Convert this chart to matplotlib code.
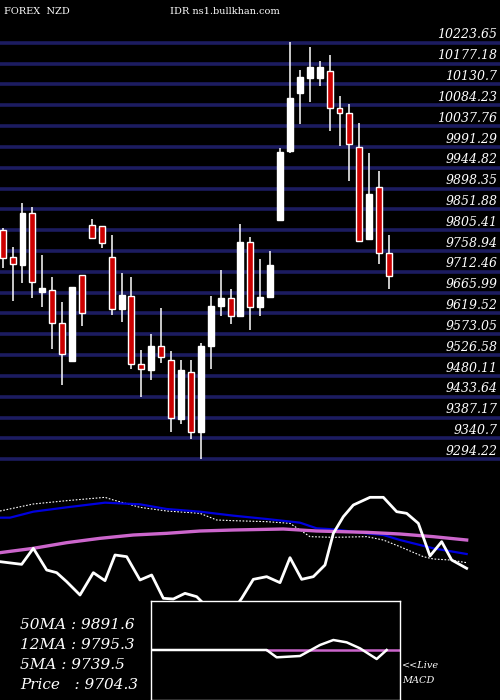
import matplotlib
matplotlib.use("Agg")
import matplotlib.pyplot as plt
from matplotlib.patches import Rectangle

# ---- candle data ----
opens  = [9805,9745,9728,9844,9668,9673,9598,9514,9705,9816,9814,9745,9630,9658,9506,9494,9547,9515,9385,9490,
          9354,9546,9637,9654,9615,9778,9633,9657,9828,9981,10112,10146,10146,10161,10077,10066,9992,9786,9901,9754]
closes = [9744,9731,9844,9689,9676,9598,9529,9679,9621,9789,9776,9629,9661,9507,9495,9547,9523,9386,9493,9354,
          9547,9636,9655,9614,9779,9635,9656,9728,9980,10100,10147,10170,10170,10077,10066,9997,9782,9886,9754,9704]
highs  = [9810,9767,9866,9857,9750,9701,9645,9679,9705,9830,9814,9795,9710,9701,9538,9574,9632,9535,9516,9516,
          9553,9659,9717,9674,9819,9790,9741,9759,9989,10225,10163,10215,10183,10196,10104,10087,10045,9978,9937,9795]
lows   = [9720,9648,9688,9655,9635,9541,9461,9514,9592,9789,9766,9616,9601,9496,9434,9470,9508,9354,9374,9340,
          9294,9496,9615,9595,9615,9583,9615,9657,9826,9978,10043,10092,10126,10027,9994,9916,9780,9786,9731,9675]
grid_levels = [10223.65,10177.18,10130.7,10084.23,10037.76,9991.29,9944.82,9898.35,9851.88,9805.41,9758.94,
               9712.46,9665.99,9619.52,9573.05,9526.58,9480.11,9433.64,9387.17,9340.7,9294.22]
grid_labels = ["10223.65","10177.18","10130.7","10084.23","10037.76","9991.29","9944.82","9898.35","9851.88",
               "9805.41","9758.94","9712.46","9665.99","9619.52","9573.05","9526.58","9480.11","9433.64",
               "9387.17","9340.7","9294.22"]

# ---- indicator panel data (panel units) ----
blue_x = [0,30,100,200,315,420,500,600,700,800,900,950,1000,1100,1150,1200,1300,1400]
blue_y = [113,113,95,82,68,73,87,95,107,117,128,145,148,160,165,180,205,222]
dot_x = [0,100,200,315,340,420,500,600,650,700,800,870,930,1000,1100,1150,1200,1270,1300,1350,1400]
dot_y = [93,72,62,52,60,82,93,100,120,122,125,130,170,172,170,180,200,230,237,240,248]
mag_x = [0,100,200,300,400,500,600,700,850,950,1100,1200,1300,1400]
mag_y = [218,205,188,175,165,160,153,150,147,153,157,162,170,180]
osc_x = [0,65,100,140,170,200,240,280,315,345,380,420,455,490,520,555,590,620,660,700,725,760,800,840,870,
         905,940,975,1000,1030,1060,1110,1150,1190,1220,1255,1290,1325,1355,1400]
osc_y = [245,253,205,270,278,305,345,278,302,225,230,300,285,355,357,340,350,380,400,390,355,298,290,308,233,
         298,290,255,160,110,75,52,52,95,100,130,228,185,240,265]
macd_x = [452,800,830,900,960,1000,1040,1080,1130,1160]
macd_y = [510,510,532,528,495,480,487,505,537,510]
sig_x = [800,1200]
sig_y = [510,510]

legend_lines = ["50MA : 9891.6", "12MA : 9795.3", "5MA : 9739.5", "Price   : 9704.3"]

W, H = 500, 700
fig = plt.figure(figsize=(5, 7), dpi=100, facecolor="black")

ax = fig.add_axes([0, 1 - 470 / H, 1, 440 / H], facecolor="black")
ax.set_xlim(-0.27, 50.2)
ax.set_ylim(9270.3, 10252.0)
ax.axis("off")
for lv, lb in zip(grid_levels, grid_labels):
    ax.axhline(lv, color="#1c1c60", lw=2.6, zorder=1)
    ax.text(0.995, lv + 3, lb, transform=ax.get_yaxis_transform(), ha="right", va="bottom",
            color="white", fontsize=9, family="DejaVu Serif", style="italic", zorder=3)
bw = 0.6
for i, (o, c, h, l) in enumerate(zip(opens, closes, highs, lows)):
    up = c >= o
    ax.vlines(i, l, h, color="white", lw=1.1, zorder=2)
    ax.add_patch(Rectangle((i - bw / 2, min(o, c)), bw, max(abs(c - o), 1.5),
                           facecolor="white" if up else "#cc0000", edgecolor="white", lw=1.0, zorder=3))

fig.text(4 / W, 1 - 12 / H, "FOREX  NZD", color="white", fontsize=7, family="DejaVu Serif", va="center")
fig.text(170 / W, 1 - 12 / H, "IDR ns1.bullkhan.com", color="white", fontsize=7, family="DejaVu Serif", va="center")

ax2 = fig.add_axes([0, 0, 1, 220 / H], facecolor="black")
ax2.set_xlim(0, 1500)
ax2.set_ylim(660, 0)
ax2.axis("off")
ax2.plot(dot_x, dot_y, color="white", lw=0.8, ls=(0, (1.5, 1.5)))
ax2.plot(blue_x, blue_y, color="#0000dd", lw=1.6)
ax2.plot(mag_x, mag_y, color="#cc66cc", lw=2.4)
ax2.plot(osc_x, osc_y, color="white", lw=2.0)

for k, t in enumerate(legend_lines):
    ax2.text(60, 435 + k * 60, t, color="white", fontsize=11, family="DejaVu Serif", style="italic", va="center")
ax2.text(1207, 558, "<<Live", color="white", fontsize=7, family="DejaVu Serif", style="italic", va="center")
ax2.text(1207, 602, "MACD", color="white", fontsize=7, family="DejaVu Serif", style="italic", va="center")

ax3 = fig.add_axes([452 / 1500, 0, (1200 - 452) / 1500, (660 - 362) / 660 * 220 / H], facecolor="black")
ax3.set_xlim(452, 1200)
ax3.set_ylim(660, 362)
ax3.set_xticks([]); ax3.set_yticks([])
for s in ax3.spines.values():
    s.set_color("white"); s.set_linewidth(1.0)
ax3.plot(sig_x, sig_y, color="#cc66cc", lw=1.8)
ax3.plot(macd_x, macd_y, color="white", lw=1.8)

fig.savefig("out.png", dpi=100, facecolor="black")
